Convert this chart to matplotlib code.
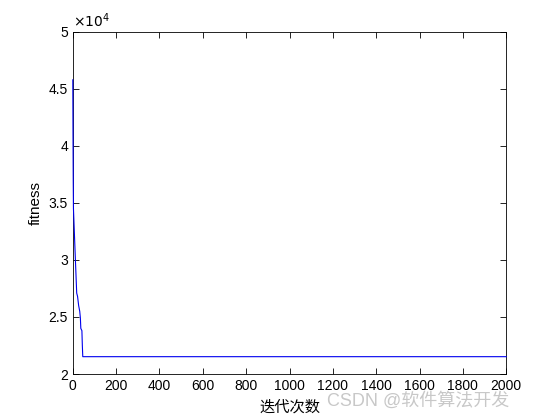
import matplotlib
matplotlib.use('Agg')
import matplotlib.pyplot as plt
from matplotlib.ticker import FuncFormatter

# iteration breakpoints and best fitness
iters = [0, 1, 2, 3, 5, 8, 12, 18, 22, 27, 32, 35, 37, 42, 44, 46, 2000]
fitness = [45800, 41000, 37000, 34500, 33500, 32000, 30000, 27100, 26800,
           26000, 25500, 24900, 24000, 23800, 22500, 21520, 21520]

xticks = [0, 200, 400, 600, 800, 1000, 1200, 1400, 1600, 1800, 2000]
yticks = [20000, 25000, 30000, 35000, 40000, 45000, 50000]

plt.rcParams['font.family'] = ['Liberation Sans', 'Noto Sans CJK SC']

fig = plt.figure(figsize=(5.6, 4.2), dpi=100)
ax = fig.add_axes([0.130, 0.1095, 0.774, 0.8145])
ax.plot(iters, fitness, color='#0000ee', linewidth=0.8, zorder=3, clip_on=False)

ax.set_xlim(0, 2000)
ax.set_ylim(20000, 50000)
ax.set_xticks(xticks)
ax.set_yticks(yticks)
ax.yaxis.set_major_formatter(FuncFormatter(lambda v, p: '%g' % (v / 1e4)))
ax.tick_params(direction='in', top=True, right=True, labelsize=10, length=4, width=0.6)
for s in ax.spines.values():
    s.set_linewidth(0.6)

ax.text(0.0, 1.005, r'$\times 10^4$', transform=ax.transAxes, fontsize=10, va='bottom', ha='left')
ax.set_xlabel('迭代次数', fontsize=11, family=['Noto Sans CJK SC'])
ax.set_ylabel('fitness', fontsize=11)

fig.text(0.91, 0.025, 'CSDN @软件算法开发', fontsize=13, color='#c8c8c8', ha='right', va='bottom',
         family=['Liberation Sans', 'Noto Sans CJK SC'])

fig.savefig('out.png', dpi=100)
